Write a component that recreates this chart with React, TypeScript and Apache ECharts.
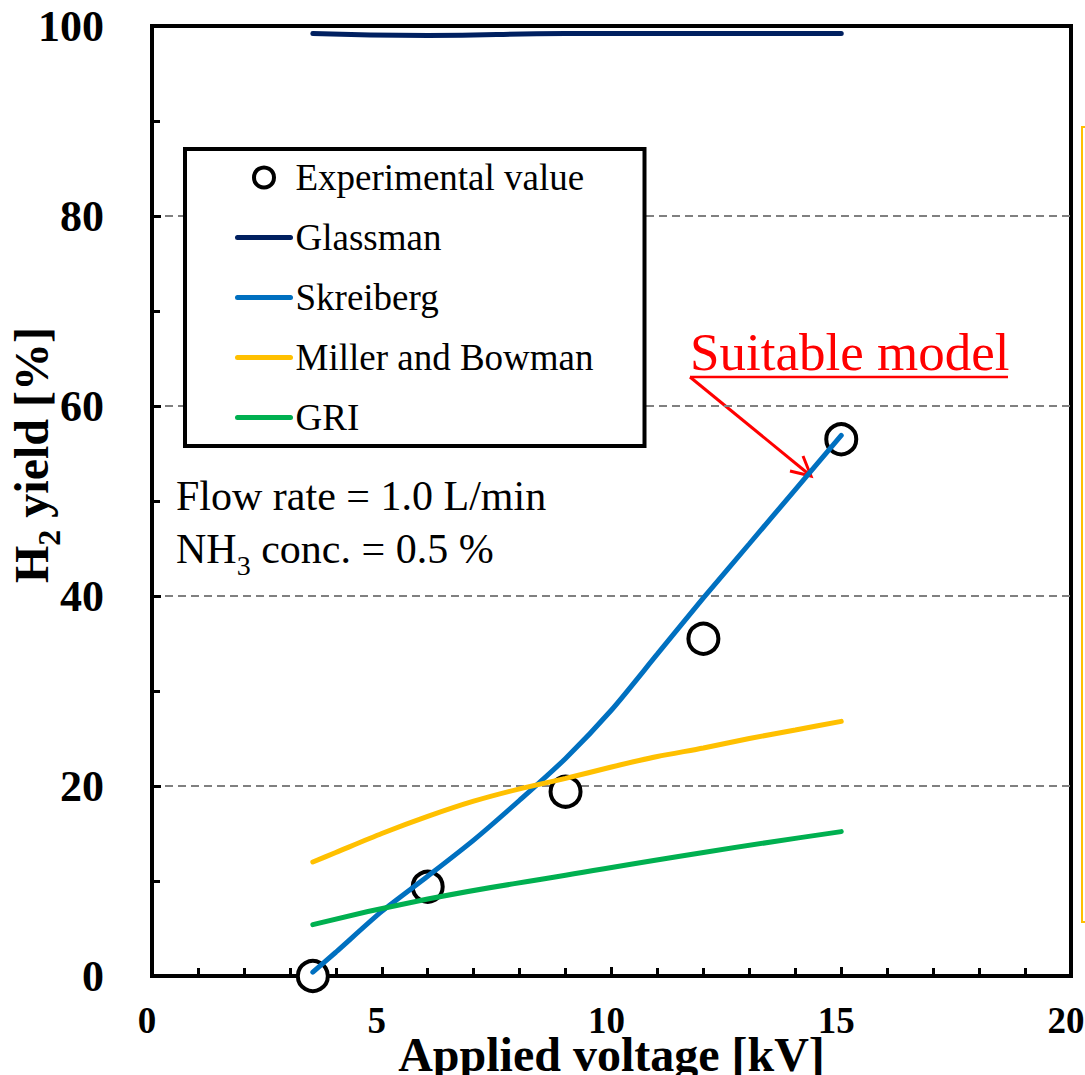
import React, { useEffect, useRef } from "react";
import * as echarts from "echarts";

// Measured H2 yield
const expVoltage = [3.5, 6, 9, 12, 15];
const expYield = [0, 9.4, 19.4, 35.5, 56.5];

// Kinetic-model predictions
const glassmanVoltage = [3.5, 6, 9, 12, 15];
const glassmanYield = [99.2, 99.0, 99.2, 99.2, 99.2];

const skreibergVoltage = [3.5, 4, 5, 6, 7, 8, 9, 10, 11, 12, 13, 14, 15];
const skreibergYield = [0.4, 2.5, 6.8, 10.5, 14.3, 18.5, 22.9, 28.0, 33.9, 39.8, 45.5, 51.2, 56.9];

const millerVoltage = [3.5, 4, 5, 6, 7, 8, 9, 10, 11, 12, 13, 14, 15];
const millerYield = [12.0, 13.0, 15.0, 16.8, 18.4, 19.7, 20.8, 22.0, 23.1, 24.0, 25.0, 25.9, 26.8];

const griVoltage = [3.5, 6, 9, 12, 15];
const griYield = [5.4, 8.1, 10.6, 13.0, 15.2];

const seriesNames = ["Experimental value", "Glassman", "Skreiberg", "Miller and Bowman", "GRI"];
const seriesColors = ["#000000", "#002060", "#0070C0", "#FFC000", "#00B050"];

const xRange = [0, 20];
const yRange = [0, 100];

const SERIF = "'Liberation Serif', 'Times New Roman', serif";

const pairs = (xs: number[], ys: number[]) => xs.map((x, i) => [x, ys[i]]);

export default function App() {
  const ref = useRef<HTMLDivElement>(null);

  useEffect(() => {
    if (!ref.current) return;
    const chart = echarts.init(ref.current, undefined, { renderer: "svg" });

    const lineSeries = (idx: number, xs: number[], ys: number[], smooth: number | boolean) => ({
      name: seriesNames[idx],
      type: "line",
      data: pairs(xs, ys),
      smooth,
      symbol: "none",
      z: 3,
      lineStyle: { color: seriesColors[idx], width: 5, cap: "round" },
      itemStyle: { color: seriesColors[idx] },
    });

    // legend entry for a model curve: plain line, no marker dot
    const lineLegend = (idx: number) => ({
      name: seriesNames[idx],
      itemStyle: { color: "rgba(0,0,0,0)", borderWidth: 0 },
    });

    chart.setOption({
      animation: false,
      backgroundColor: "#ffffff",
      textStyle: { fontFamily: SERIF },
      grid: {
        left: 152,
        top: 26,
        right: 14,
        bottom: 99,
        outerBoundsMode: "none",
        containLabel: false,
        show: true,
        borderColor: "#000",
        borderWidth: 4,
        backgroundColor: "transparent",
      },
      xAxis: {
        type: "value",
        min: xRange[0],
        max: xRange[1],
        interval: 5,
        name: "Applied voltage [kV]",
        nameLocation: "middle",
        nameGap: 54,
        nameMoveOverlap: false,
        nameTextStyle: { fontFamily: SERIF, fontWeight: "bold", fontSize: 48, color: "#000", lineHeight: 48 },
        axisLine: { lineStyle: { color: "#000", width: 4 } },
        axisTick: { inside: true, length: 9, lineStyle: { color: "#000", width: 3 } },
        minorTick: { show: true, splitNumber: 5, length: 8, lineStyle: { color: "#000", width: 3 } },
        axisLabel: {
          margin: 26,
          fontFamily: SERIF,
          fontWeight: "bold",
          fontSize: 37,
          lineHeight: 37,
          color: "#000",
          padding: [0, 10, 0, 0],
        },
        splitLine: { show: false },
      },
      yAxis: {
        type: "value",
        min: yRange[0],
        max: yRange[1],
        interval: 20,
        axisLine: { lineStyle: { color: "#000", width: 4 } },
        axisTick: { inside: true, length: 9, lineStyle: { color: "#000", width: 3 } },
        minorTick: { show: true, splitNumber: 2, length: 8, lineStyle: { color: "#000", width: 3 } },
        axisLabel: {
          margin: 48,
          fontFamily: SERIF,
          fontWeight: "bold",
          fontSize: 44,
          color: "#000",
        },
        splitLine: {
          show: true,
          showMinLine: false,
          showMaxLine: false,
          lineStyle: { color: "#808080", width: 2, type: [8, 5] },
        },
      },
      legend: {
        orient: "vertical",
        left: 185,
        top: 149,
        padding: [10, 51, 10, 50],
        itemGap: 23,
        itemWidth: 53,
        itemHeight: 20,
        borderColor: "#000",
        borderWidth: 4,
        backgroundColor: "#fff",
        selectedMode: false,
        lineStyle: { width: 5, cap: "round" },
        textStyle: { fontFamily: SERIF, fontSize: 37, color: "#000" },
        data: [
          {
            name: seriesNames[0],
            icon: "circle",
            itemStyle: { color: "#fff", borderColor: "#000", borderWidth: 4, opacity: 1 },
          },
          lineLegend(1),
          lineLegend(2),
          lineLegend(3),
          lineLegend(4),
        ],
      },
      series: [
        {
          name: seriesNames[0],
          type: "scatter",
          data: pairs(expVoltage, expYield),
          symbol: "circle",
          symbolSize: 30,
          clip: false,
          z: 2,
          itemStyle: { color: "#fff", borderColor: "#000", borderWidth: 4, opacity: 1 },
        },
        lineSeries(1, glassmanVoltage, glassmanYield, true),
        lineSeries(2, skreibergVoltage, skreibergYield, 0.25),
        lineSeries(3, millerVoltage, millerYield, 0.25),
        lineSeries(4, griVoltage, griYield, true),
      ],
      graphic: [
        // vertical axis title with subscript
        {
          type: "text",
          x: 31,
          y: 455,
          rotation: Math.PI / 2,
          style: {
            text: "{b|H}{s|2}{b| yield [%]}",
            align: "center",
            verticalAlign: "middle",
            fill: "#000",
            rich: {
              b: { fontFamily: SERIF, fontWeight: "bold", fontSize: 48, lineHeight: 48, verticalAlign: "bottom" },
              s: {
                fontFamily: SERIF,
                fontWeight: "bold",
                fontSize: 32,
                lineHeight: 32,
                verticalAlign: "bottom",
                padding: [0, 0, -10, 0],
              },
            },
          },
        },
        // operating conditions
        {
          type: "text",
          x: 176,
          y: 496,
          style: {
            text: "Flow rate = 1.0 L/min",
            fontFamily: SERIF,
            fontSize: 42,
            fill: "#000",
            verticalAlign: "middle",
          },
        },
        {
          type: "text",
          x: 176,
          y: 549,
          style: {
            text: "{n|NH}{s|3}{n| conc. = 0.5 %}",
            verticalAlign: "middle",
            fill: "#000",
            rich: {
              n: { fontFamily: SERIF, fontSize: 42, lineHeight: 42, verticalAlign: "bottom" },
              s: { fontFamily: SERIF, fontSize: 28, lineHeight: 28, verticalAlign: "bottom", padding: [0, 0, -9, 0] },
            },
          },
        },
        // callout
        {
          type: "text",
          x: 690,
          y: 352,
          style: {
            text: "Suitable model",
            fontFamily: SERIF,
            fontSize: 53,
            fill: "#FF0000",
            verticalAlign: "middle",
          },
        },
        {
          type: "line",
          shape: { x1: 690, y1: 377, x2: 1008, y2: 377 },
          style: { stroke: "#FF0000", lineWidth: 2.5 },
        },
        {
          type: "line",
          shape: { x1: 690, y1: 377, x2: 811, y2: 476 },
          style: { stroke: "#FF0000", lineWidth: 3 },
        },
        {
          type: "polyline",
          shape: { points: [[790, 471], [811, 476], [803, 456]] },
          style: { stroke: "#FF0000", lineWidth: 3, fill: "none" },
        },
        // bracket at the right edge
        {
          type: "polyline",
          shape: { points: [[1092, 127], [1082, 127], [1082, 922], [1092, 922]] },
          style: { stroke: "#FFC000", lineWidth: 2, fill: "none" },
        },
      ],
    });

    return () => chart.dispose();
  }, []);

  return (
    <div
      ref={ref}
      style={{ position: "fixed", left: 0, top: 0, width: 1085, height: 1075, background: "#fff" }}
    />
  );
}
